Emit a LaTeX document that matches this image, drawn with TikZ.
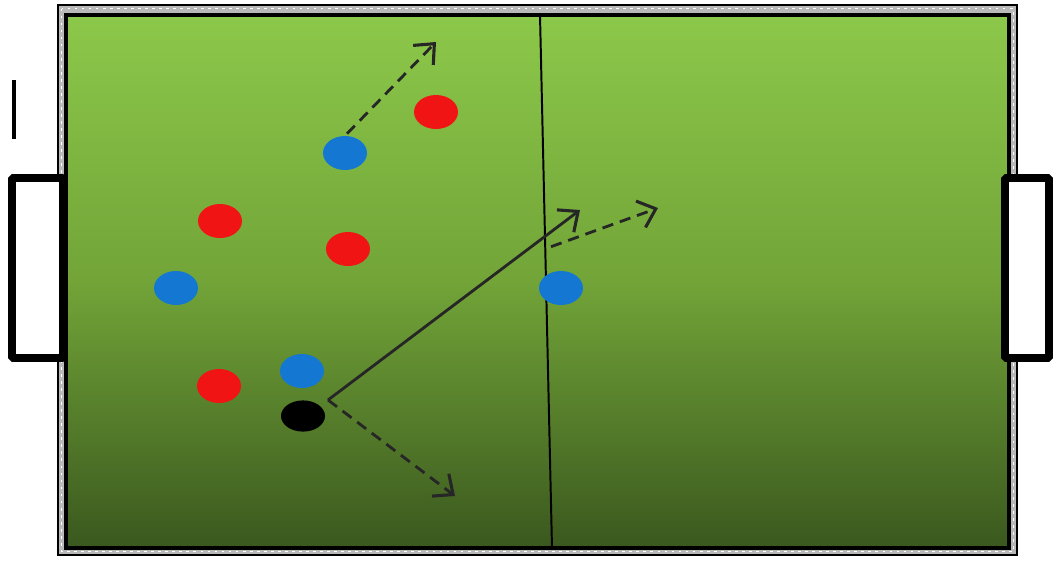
\documentclass[tikz,border=0pt]{standalone}
\usetikzlibrary{shapes.geometric,arrows.meta}

\definecolor{grasstop}{RGB}{140,200,74}
\definecolor{grassmid}{RGB}{114,164,56}
\definecolor{grassbot}{RGB}{58,88,30}
\definecolor{teamred}{RGB}{240,20,20}
\definecolor{teamblue}{RGB}{20,120,210}

\tikzset{
  player/.style={ellipse, minimum width=1.1cm, minimum height=0.85cm, inner sep=0pt},
  redp/.style={player, fill=teamred},
  bluep/.style={player, fill=teamblue},
  ballp/.style={ellipse, minimum width=1.1cm, minimum height=0.78cm, inner sep=0pt, fill=black},
  pass/.style={line width=2pt, black!85, -{Straight Barb[length=4mm,width=7mm,line width=2.2pt]}},
  run/.style={pass, dash pattern=on 8pt off 5pt},
  goalbox/.style={line width=5.5pt, fill=white, rounded corners=1pt}
}

\begin{document}
\begin{tikzpicture}[x=0.025cm, y=-0.025cm]
  \useasboundingbox (0,0) rectangle (1053,560);

  %% --- 外枠とピッチ ---
  \draw[black, line width=1pt, fill=gray!55] (58,5) rectangle (1017,555);
  \draw[white, line width=0.8pt, dash pattern=on 2pt off 3pt] (61.5,8.5) rectangle (1013.5,551.5);
  \shade[top color=grasstop, bottom color=grassbot, middle color=grassmid]
    (66,15) rectangle (1009,548);
  \draw[black, line width=3pt] (66,15) rectangle (1009,548);

  %% ハーフウェーライン
  \draw[black, line width=1.4pt] (540,15) -- (552,548);

  %% --- ゴール ---
  \draw[goalbox] (12,178) rectangle (63,358);
  \draw[goalbox] (1005,178) rectangle (1049,358);
  \draw[black, line width=3pt] (14,80) -- (14,139);

  %% --- 選手 ---
  \node[bluep] (b1) at (345,153) {};
  \node[redp]  (r1) at (436,112) {};
  \node[redp]  (r2) at (220,221) {};
  \node[redp]  (r3) at (348,249) {};
  \node[bluep] (b2) at (176,288) {};
  \node[bluep] (b3) at (561,288) {};
  \node[redp]  (r4) at (219,386) {};
  \node[bluep] (b4) at (302,371) {};
  \node[ballp] (ball) at (303,416) {};

  %% --- パスと動き ---
  \coordinate (kick) at (328,400);
  \coordinate (runA) at (436,42);
  \coordinate (passT) at (580,210);
  \coordinate (runB) at (658,208);
  \coordinate (runC) at (455,496);

  \draw[run]  (b1.north) ++(2,-2) -- (runA);
  \draw[pass] (kick) -- (passT);
  \draw[run]  (b3.north) ++(-10,-24) -- (runB);
  \draw[run]  (kick) -- (runC);
\end{tikzpicture}
\end{document}
